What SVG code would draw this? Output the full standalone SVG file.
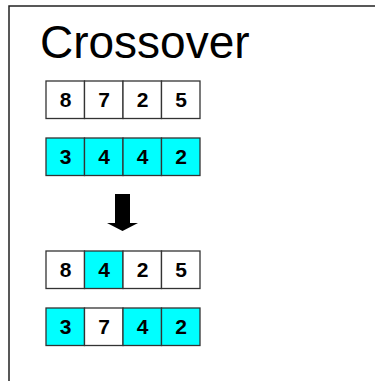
<svg xmlns="http://www.w3.org/2000/svg" width="375" height="381" viewBox="0 0 375 381">
<style>
.c{stroke:#333;stroke-width:1.3}
.w{fill:#fff}
.a{fill:#00ffff}
.d{font-family:"Liberation Sans",Arial,sans-serif;font-weight:bold;font-size:21px;text-anchor:middle;fill:#000}
.t{font-family:"Liberation Sans",Arial,sans-serif;font-size:46px;fill:#000}
</style>
<rect width="375" height="381" fill="#fff"/>
<path d="M9,381 V6 H375" fill="none" stroke="#222" stroke-width="1.5"/>
<text class="t" x="40" y="57.5">Crossover</text>
<g id="row1">
<rect class="c w" x="46" y="81" width="38.5" height="37.5"/>
<rect class="c w" x="84.5" y="81" width="38.5" height="37.5"/>
<rect class="c w" x="123" y="81" width="38.5" height="37.5"/>
<rect class="c w" x="161.5" y="81" width="38.5" height="37.5"/>
<text class="d" x="65.5" y="107">8</text>
<text class="d" x="104" y="107">7</text>
<text class="d" x="142.5" y="107">2</text>
<text class="d" x="181" y="107">5</text>
</g>
<g id="row2">
<rect class="c a" x="46" y="138" width="38.5" height="37.5"/>
<rect class="c a" x="84.5" y="138" width="38.5" height="37.5"/>
<rect class="c a" x="123" y="138" width="38.5" height="37.5"/>
<rect class="c a" x="161.5" y="138" width="38.5" height="37.5"/>
<text class="d" x="65.5" y="164">3</text>
<text class="d" x="104" y="164">4</text>
<text class="d" x="142.5" y="164">4</text>
<text class="d" x="181" y="164">2</text>
</g>
<g id="connectors">
<polygon points="115,194 130,194 130,223 138,223 122.5,231 107,223 115,223" fill="#000"/>
</g>
<g id="row3">
<rect class="c w" x="46" y="251" width="38.5" height="37.5"/>
<rect class="c a" x="84.5" y="251" width="38.5" height="37.5"/>
<rect class="c w" x="123" y="251" width="38.5" height="37.5"/>
<rect class="c w" x="161.5" y="251" width="38.5" height="37.5"/>
<text class="d" x="65.5" y="277">8</text>
<text class="d" x="104" y="277">4</text>
<text class="d" x="142.5" y="277">2</text>
<text class="d" x="181" y="277">5</text>
</g>
<g id="row4">
<rect class="c a" x="46" y="308" width="38.5" height="37.5"/>
<rect class="c w" x="84.5" y="308" width="38.5" height="37.5"/>
<rect class="c a" x="123" y="308" width="38.5" height="37.5"/>
<rect class="c a" x="161.5" y="308" width="38.5" height="37.5"/>
<text class="d" x="65.5" y="334">3</text>
<text class="d" x="104" y="334">7</text>
<text class="d" x="142.5" y="334">4</text>
<text class="d" x="181" y="334">2</text>
</g>
</svg>
